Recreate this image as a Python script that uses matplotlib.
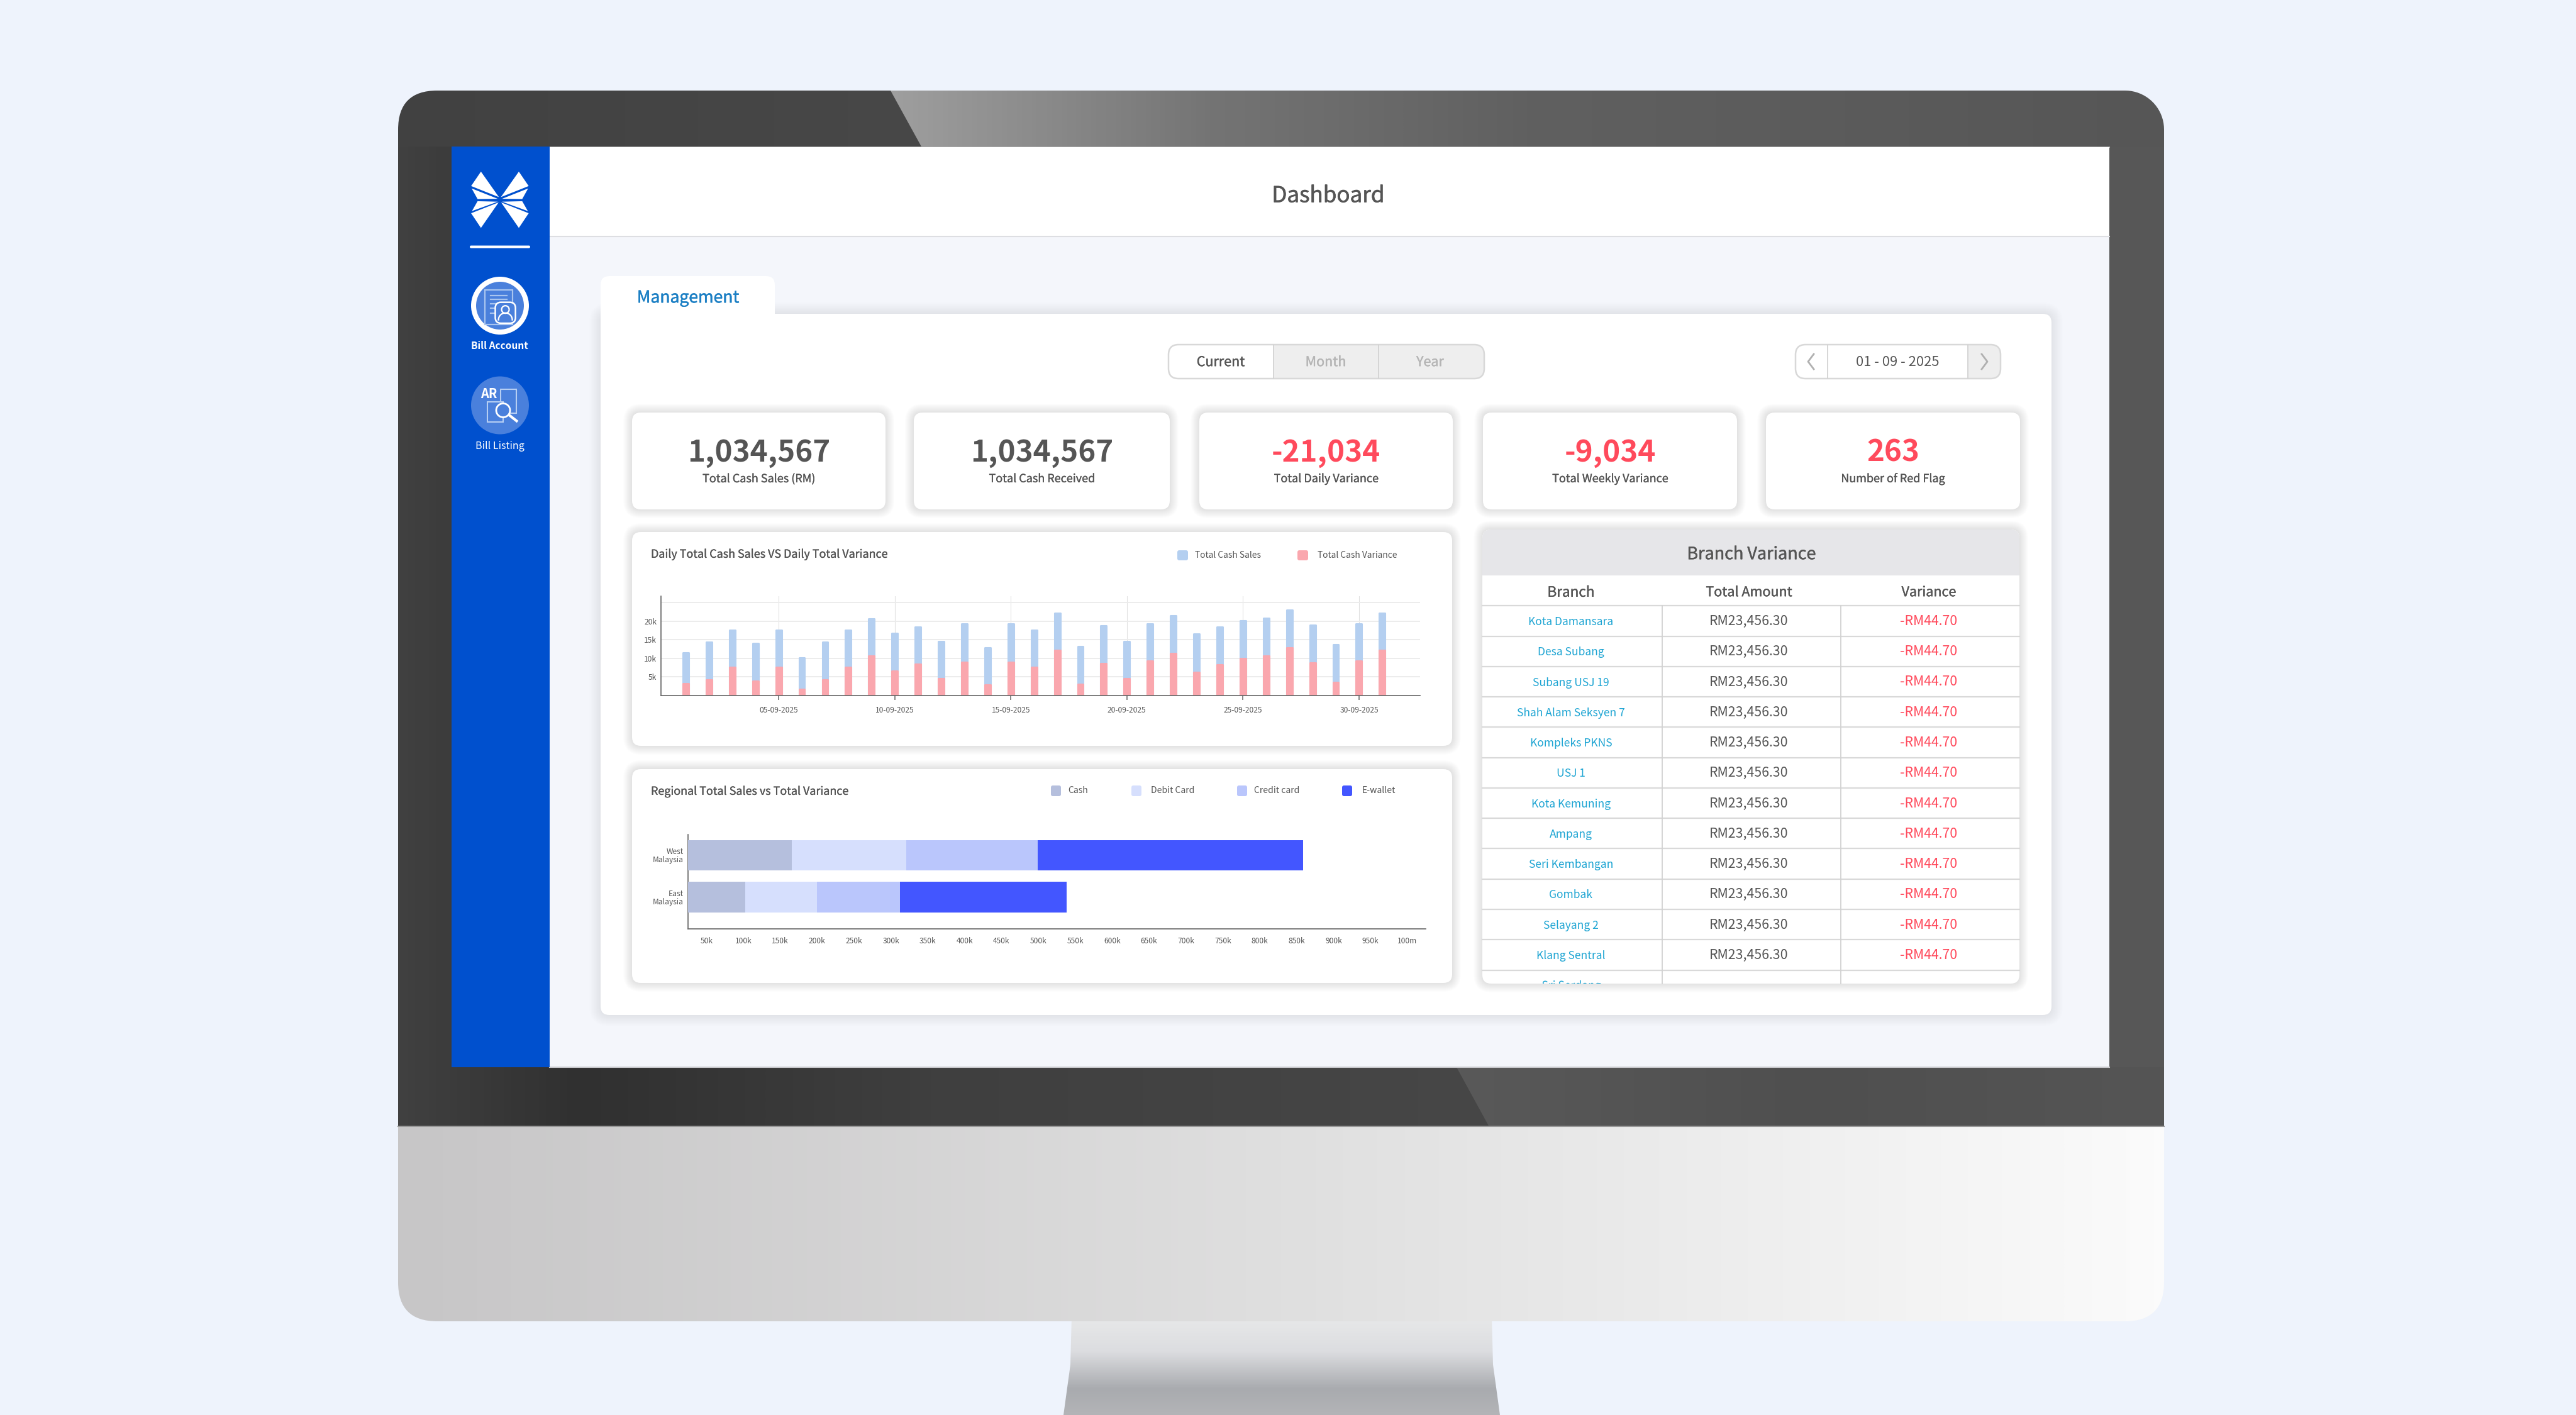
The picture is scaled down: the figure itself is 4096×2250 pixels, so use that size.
import numpy as np
import matplotlib
matplotlib.use('Agg')
import matplotlib.pyplot as plt
import matplotlib.patheffects as pe
from matplotlib.colors import LinearSegmentedColormap
from matplotlib.font_manager import FontProperties
from matplotlib.patches import FancyBboxPatch, PathPatch, Polygon, Rectangle, Circle
from matplotlib.textpath import TextPath
from matplotlib.transforms import Affine2D

plt.rcParams['font.family'] = ['Noto Sans CJK SC', 'DejaVu Sans']

W, H = 4096, 2250
DARK = '#555555'
RED = '#FF4A5C'
TEAL = '#1FA5D3'

# Chart data
days = list(range(1, 32))
cash_sales = [11.5, 14.4, 17.6, 14.0, 17.6, 10.1, 14.4, 17.6, 20.7, 16.7, 18.5, 14.6, 19.2, 12.8, 19.2, 17.6,
              22.2, 13.1, 18.7, 14.6, 19.3, 21.5, 16.5, 18.4, 20.1, 20.8, 22.9, 18.9, 13.7, 19.3, 22.2]
cash_variance = [3.2, 4.3, 7.6, 3.9, 7.6, 1.7, 4.3, 7.6, 10.6, 6.6, 8.4, 4.5, 9.0, 2.8, 9.0, 7.6,
                 12.1, 3.0, 8.6, 4.6, 9.3, 11.4, 6.3, 8.3, 9.9, 10.7, 12.8, 8.8, 3.6, 9.3, 12.1]
date_ticks = [5, 10, 15, 20, 25, 30]
date_labels = ['05-09-2025', '10-09-2025', '15-09-2025', '20-09-2025', '25-09-2025', '30-09-2025']
sales_ticks = [5, 10, 15, 20, 25]
sales_labels = ['5k', '10k', '15k', '20k', '']

regions = ['East\nMalaysia', 'West\nMalaysia']
cash = [103, 166]
debit = [97, 155]
credit = [112, 178]
ewallet = [226, 360]
region_ticks = [50 * i for i in range(1, 21)]
region_labels = ['%dk' % v for v in region_ticks[:-1]] + ['100m']
payment_names = ['Cash', 'Debit Card', 'Credit card', 'E-wallet']
payment_colors = ['#B5BFDD', '#D6DFFD', '#BAC6FC', '#4356FF']

# KPI cards
kpi_values = ['1,034,567', '1,034,567', '-21,034', '-9,034', '263']
kpi_names = ['Total Cash Sales (RM)', 'Total Cash Received', 'Total Daily Variance',
             'Total Weekly Variance', 'Number of Red Flag']
kpi_colors = [DARK, DARK, RED, RED, RED]

# Branch table
branches = ['Kota Damansara', 'Desa Subang', 'Subang USJ 19', 'Shah Alam Seksyen 7', 'Kompleks PKNS', 'USJ 1',
            'Kota Kemuning', 'Ampang', 'Seri Kembangan', 'Gombak', 'Selayang 2', 'Klang Sentral']
cut_off_branch = 'Sri Serdang'
amounts = ['RM23,456.30'] * 12
variances = ['-RM44.70'] * 12

fig = plt.figure(figsize=(W / 100, H / 100), dpi=100, facecolor='#EEF3FC')
bg = fig.add_axes([0, 0, 1, 1])
bg.set_axis_off()


def label(x, y, s, size, color=DARK, weight='normal', ha='center', va='center', z=20):
    # size is in image pixels; text sits a little low of its box in the source
    t = bg.text(x, y + size * 0.1, s, fontsize=size * 0.72, color=color, ha=ha, va=va, zorder=z,
                fontweight='bold' if weight == 'bold' else 'normal')
    if weight == 'medium':
        t.set_path_effects([pe.withStroke(linewidth=size * 0.012, foreground=color)])
    return t


def box(x0, y0, x1, y1, r, face='white', edge='none', lw=0, z=5):
    p = FancyBboxPatch((x0, y0), x1 - x0, y1 - y0, boxstyle='round,pad=0,rounding_size=%g' % r,
                       facecolor=face, edgecolor=edge, linewidth=lw * 0.72, zorder=z)
    bg.add_patch(p)
    return p


def shadow_box(x0, y0, x1, y1, r, spread=16, alpha=0.006, z=5):
    # stacked see-through boxes make a soft shadow
    for i in range(spread):
        g = spread - i
        box(x0 - g, y0 - g, x1 + g, y1 + g, r + g, face=(0.2, 0.2, 0.25, alpha), z=z)
    return box(x0, y0, x1, y1, r, z=z)


def gradient(x0, y0, x1, y1, colors, clip=None, vertical=False, z=1):
    cmap = LinearSegmentedColormap.from_list('g', colors)
    arr = np.linspace(0, 1, 256).reshape(-1, 1) if vertical else np.linspace(0, 1, 256).reshape(1, -1)
    im = bg.imshow(arr, cmap=cmap, extent=(x0, x1, y1, y0), aspect='auto', zorder=z, interpolation='bilinear')
    if clip is not None:
        im.set_clip_path(clip)
    return im


def px_axes(x0, y0, x1, y1):
    ax = fig.add_axes([x0 / W, 1 - y1 / H, (x1 - x0) / W, (y1 - y0) / H])
    ax.patch.set_alpha(0)
    return ax


# Monitor stand
stand = Polygon([(1704, 2095), (2372, 2095), (2374, 2170), (2385, 2250), (1691, 2250), (1702, 2170)],
                facecolor='none', edgecolor='none', zorder=1)
bg.add_patch(stand)
gradient(1680, 2101, 2400, 2250, [(0, '#E6E7E8'), (0.32, '#DCDDE0'), (0.72, '#A9ABAF'), (1, '#B3B4B7')],
         clip=stand, vertical=True, z=1)

# Monitor body
body = box(633, 144, 3441, 2101, 62, face='none', z=2)
gradient(633, 233, 3441, 1792, [(0, '#404040'), (0.1, '#303030'), (0.3, '#3F3F3F'), (0.62, '#474747'), (1, '#505050')],
         clip=body, z=2)
gradient(633, 144, 1470, 233, ['#414141', '#484848'], clip=body, z=2)
arc = np.linspace(-np.pi / 2, 0, 20)
top_shape = Polygon([(1416, 144)] + [(3379 + 62 * np.cos(a), 206 + 62 * np.sin(a)) for a in arc] +
                    [(3441, 233), (1465, 233)], facecolor='none', edgecolor='none', zorder=3)
bg.add_patch(top_shape)
gradient(1416, 144, 3441, 233, [(0, '#9E9E9E'), (0.25, '#747474'), (0.5, '#606060'), (1, '#565656')], clip=top_shape, z=3)
bg.add_patch(Rectangle((3354, 233), 87, 1464, facecolor='#575757', zorder=3))
low_shape = Polygon([(2316, 1697), (3441, 1697), (3441, 1792), (2368, 1792)], facecolor='none', edgecolor='none', zorder=3)
bg.add_patch(low_shape)
gradient(2316, 1697, 3441, 1792, ['#595959', '#4F4F4F', '#555555'], clip=low_shape, z=3)
gradient(633, 1792, 3441, 2101, [(0, '#C7C6C7'), (0.5, '#DFDFDF'), (1, '#FBFBFB')], clip=body, z=3)
bg.plot([633, 3441], [1791, 1791], color='#999999', lw=1.5, zorder=4)

# Screen
bg.add_patch(Rectangle((718, 233), 2636, 1464, facecolor='#F4F6FB', edgecolor='none', zorder=4))
bg.plot([874, 3354], [233.5, 233.5], color='#AAAAAA', lw=1.5, zorder=5)
bg.plot([874, 3354], [1696.5, 1696.5], color='#C8C8CC', lw=1.5, zorder=5)
bg.add_patch(Rectangle((874, 234), 2480, 141, facecolor='white', zorder=5))
bg.plot([874, 3354], [376, 376], color='#DDDEE2', lw=1.5, zorder=5)
label(2112, 308, 'Dashboard', 35, weight='medium')

# Sidebar
bg.add_patch(Rectangle((718, 233), 156, 1464, facecolor='#0050CE', zorder=6))


def zx(v):
    return 700 + v / 2.24


def zy(v):
    return 230 + v / 2.613


logo_left = [[(145, 112), (209, 218), (110, 172)], [(112, 182), (205, 225), (133, 226)],
             [(133, 235), (205, 237), (113, 276)], [(110, 285), (208, 240), (145, 346)]]
for tri in logo_left:
    bg.add_patch(Polygon([(zx(a), zy(b)) for a, b in tri], facecolor='white', zorder=7))
    bg.add_patch(Polygon([(zx(425 - a), zy(b)) for a, b in tri], facecolor='white', zorder=7))
bg.add_patch(FancyBboxPatch((747, 390.5), 96, 4, boxstyle='round,pad=0,rounding_size=2', facecolor='white',
                            edgecolor='none', zorder=7))

# Bill account icon
bg.add_patch(Circle((795, 486), 42, facecolor='#4A80DC', edgecolor='white', linewidth=8 * 0.72, zorder=7))
bg.add_patch(Rectangle((zx(160), zy(603)), 44, 55, facecolor='none', edgecolor='#A9C5EF', linewidth=1.6, zorder=8))
for v in [626, 643, 660, 680, 700]:
    bg.plot([zx(180), zx(237)], [zy(v), zy(v)], color='#A9C5EF', lw=1.6, zorder=8)
box(zx(196), zy(655), zx(268), zy(742), 9, face='#4A80DC', edge='white', lw=2.5, z=9)
bg.add_patch(Circle((zx(232), zy(685)), 6, facecolor='none', edgecolor='white', linewidth=1.6, zorder=10))
arc2 = np.linspace(np.pi, 2 * np.pi, 20)
bg.plot(zx(232) + 11 * np.cos(arc2), zy(728) + 11 * np.sin(arc2), color='white', lw=1.6, zorder=10)
label(794, 548, 'Bill Account', 15.5, color='white', weight='bold')

# Bill listing icon
bg.add_patch(Circle((795, 644.5), 46, facecolor='#4A80DC', zorder=7))
label(zx(174), zy(1030), 'AR', 20, color='white', weight='bold')
bg.add_patch(Rectangle((zx(215), zy(1017)), 25, 38, facecolor='none', edgecolor='#B6CEF3', linewidth=1.5, zorder=8))
bg.add_patch(Rectangle((zx(168), zy(1068)), 25, 32, facecolor='#4A80DC', edgecolor='#B6CEF3', linewidth=1.5, zorder=8))
bg.add_patch(Circle((zx(224), zy(1104)), 11, facecolor='#4A80DC', edgecolor='white', linewidth=2, zorder=9))
bg.plot([zx(246), zx(272)], [zy(1124), zy(1148)], color='white', lw=3, zorder=9)
label(795, 708, 'Bill Listing', 16, color='white')

# Main card and tab
shadow_box(955, 499, 3262, 1614, 14, spread=18, alpha=0.005, z=6)
box(955, 439, 1232, 520, 14, z=7)
bg.add_patch(Rectangle((955, 490), 277, 30, facecolor='white', zorder=7))
label(1094, 471, 'Management', 26.5, color='#1B7FC4', weight='medium')

# Current / Month / Year switch
switch = box(1858, 548, 2360, 602, 16, face='#EEEEEE', z=8)
r = Rectangle((1858, 548), 167, 54, facecolor='white', zorder=8)
bg.add_patch(r)
r.set_clip_path(switch)
box(1858, 548, 2360, 602, 16, face='none', edge='#D8D8D8', lw=2.5, z=9)
for x in [2025, 2192]:
    bg.plot([x, x], [549, 601], color='#D0D0D0', lw=1.2, zorder=9)
label(1941, 574, 'Current', 21.5, weight='medium')
label(2108, 574, 'Month', 21.5, color='#B5B5B5', weight='medium')
label(2274, 574, 'Year', 21.5, color='#B5B5B5', weight='medium')

# Date picker
picker = box(2855, 548, 3181, 602, 16, z=8)
r = Rectangle((3129, 548), 52, 54, facecolor='#EEEEEE', zorder=8)
bg.add_patch(r)
r.set_clip_path(picker)
box(2855, 548, 3181, 602, 16, face='none', edge='#D8D8D8', lw=2.5, z=9)
for x in [2906, 3129]:
    bg.plot([x, x], [549, 601], color='#D0D0D0', lw=1.2, zorder=9)
label(3017, 574, '01 - 09 - 2025', 22)
bg.plot([2884, 2875, 2884], [563, 575, 587], color='#B0B0B0', lw=2, zorder=10)
bg.plot([3151, 3160, 3151], [563, 575, 587], color='#B0B0B0', lw=2, zorder=10)

# KPI cards
kpi_left = [1005, 1453, 1907, 2358, 2808]
kpi_right = [1408, 1860, 2310, 2762, 3212]
for x0, x1, val, name, col in zip(kpi_left, kpi_right, kpi_values, kpi_names, kpi_colors):
    shadow_box(x0, 656, x1, 810, 14, spread=14, alpha=0.007, z=10)
    label((x0 + x1) / 2, 715, val, 47.5, color=col, weight='bold')
    label((x0 + x1) / 2, 760, name, 18, weight='medium')

# Chart cards
shadow_box(1005, 846, 2309, 1186, 14, spread=14, alpha=0.007, z=10)
shadow_box(1005, 1223, 2309, 1563, 14, spread=14, alpha=0.007, z=10)
label(1035, 880, 'Daily Total Cash Sales VS Daily Total Variance', 17.9, weight='medium', ha='left')
label(1035, 1257, 'Regional Total Sales vs Total Variance', 17.9, weight='medium', ha='left')

# legends
for x0, xt, name, col in zip([1872, 2063], [1900, 2095], ['Total Cash Sales', 'Total Cash Variance'], ['#B4CFF0', '#FAA7AE']):
    box(x0, 875, x0 + 17, 891, 3, face=col, z=12)
    label(xt, 882, name, 13.8, ha='left')
for x0, xt, name, col in zip([1671, 1799, 1967, 2134], [1698, 1830, 1994, 2166], payment_names, payment_colors):
    box(x0, 1249, x0 + 16, 1266, 3, face=col, z=12)
    label(xt, 1256, name, 14, ha='left')

# Daily chart
ax = px_axes(1051, 948, 2258, 1106)
ax.bar(days, cash_sales, width=0.24, color='#B4CFF0', edgecolor='#B4CFF0', linewidth=2.2, joinstyle='round', zorder=3)
ax.bar(days, cash_variance, width=0.24, color='#FAA7AE', edgecolor='#FAA7AE', linewidth=2.2, joinstyle='round', zorder=4)
ax.set_xlim(-0.07, 32.63)
ax.set_ylim(0, 26.7)
ax.set_xticks(date_ticks)
ax.set_xticklabels(date_labels, fontsize=12 * 0.72, color=DARK)
ax.set_yticks(sales_ticks)
ax.set_yticklabels(sales_labels, fontsize=12 * 0.72, color=DARK)
ax.tick_params(axis='x', length=5, width=1.1, color='#666666', pad=7)
ax.tick_params(axis='y', length=0, pad=5)
ax.grid(axis='y', color='#ECECEC', lw=1.4, zorder=0)
ax.grid(axis='x', color='#E0E0E0', lw=0.8, zorder=0)
for s in ['top', 'right']:
    ax.spines[s].set_visible(False)
for s in ['left', 'bottom']:
    ax.spines[s].set_color('#666666')
    ax.spines[s].set_linewidth(1.2)
ax.spines['bottom'].set_zorder(6)

# Regional chart
ax2 = px_axes(1094, 1327, 2267, 1477)
left = np.zeros(2)
for vals, col in zip([cash, debit, credit, ewallet], payment_colors):
    ax2.barh([0, 1], vals, left=left, height=0.728, color=col, zorder=3)
    left = left + np.array(vals)
ax2.set_xlim(25, 1025)
ax2.set_ylim(-0.758, 1.495)
ax2.set_xticks(region_ticks)
ax2.set_xticklabels(region_labels, fontsize=12 * 0.72, color=DARK)
ax2.set_yticks([0, 1])
ax2.set_yticklabels(regions, fontsize=12 * 0.72, color=DARK, linespacing=1.0, ha='right')
ax2.tick_params(length=0)
ax2.tick_params(axis='x', pad=9)
ax2.tick_params(axis='y', pad=5)
for s in ['top', 'right']:
    ax2.spines[s].set_visible(False)
for s in ['left', 'bottom']:
    ax2.spines[s].set_color('#666666')
    ax2.spines[s].set_linewidth(1.2)

# Branch variance table
card = shadow_box(2357, 842, 3211, 1564, 14, spread=14, alpha=0.007, z=10)
head = Rectangle((2357, 842), 854, 73, facecolor='#E6E6E9', zorder=11)
bg.add_patch(head)
head.set_clip_path(card)
label(2785, 879, 'Branch Variance', 27, weight='medium')
for x, s, size in zip([2498, 2781, 3067], ['Branch', 'Total Amount', 'Variance'], [22.5, 21.5, 21.5]):
    label(x, 940, s, size, weight='medium')
row_h = 48.27
line_y = 963.3
for i in range(13):
    bg.plot([2357, 3211], [line_y + i * row_h] * 2, color='#D9D9D9', lw=1.6, zorder=12)
for x in [2642.5, 2927]:
    bg.plot([x, x], [line_y, 1564], color='#D2D2D2', lw=1.3, zorder=12)
for i, name in enumerate(branches):
    label(2498, line_y + i * row_h + 24, name, 17.5, color=TEAL, z=13)
    label(2781, line_y + i * row_h + 22.5, amounts[i], 21.3)
    label(3067, line_y + i * row_h + 22.5, variances[i], 21.3, color=RED)

# last row runs under the card edge, so this one is a clipped outline
tp = TextPath((0, 0), cut_off_branch, size=17.5, prop=FontProperties(family='Noto Sans CJK SC'))
tw = tp.get_extents().width
tr = Affine2D().scale(1, -1).translate(2498 - tw / 2, line_y + 12 * row_h + 30) + bg.transData
cut = PathPatch(tp, facecolor=TEAL, edgecolor='none', transform=tr, zorder=13)
bg.add_patch(cut)
cut.set_transform(tr)
cut.set_clip_path(card)

bg.set_xlim(0, W)
bg.set_ylim(H, 0)
fig.savefig('out.png', dpi=100, facecolor=fig.get_facecolor())
